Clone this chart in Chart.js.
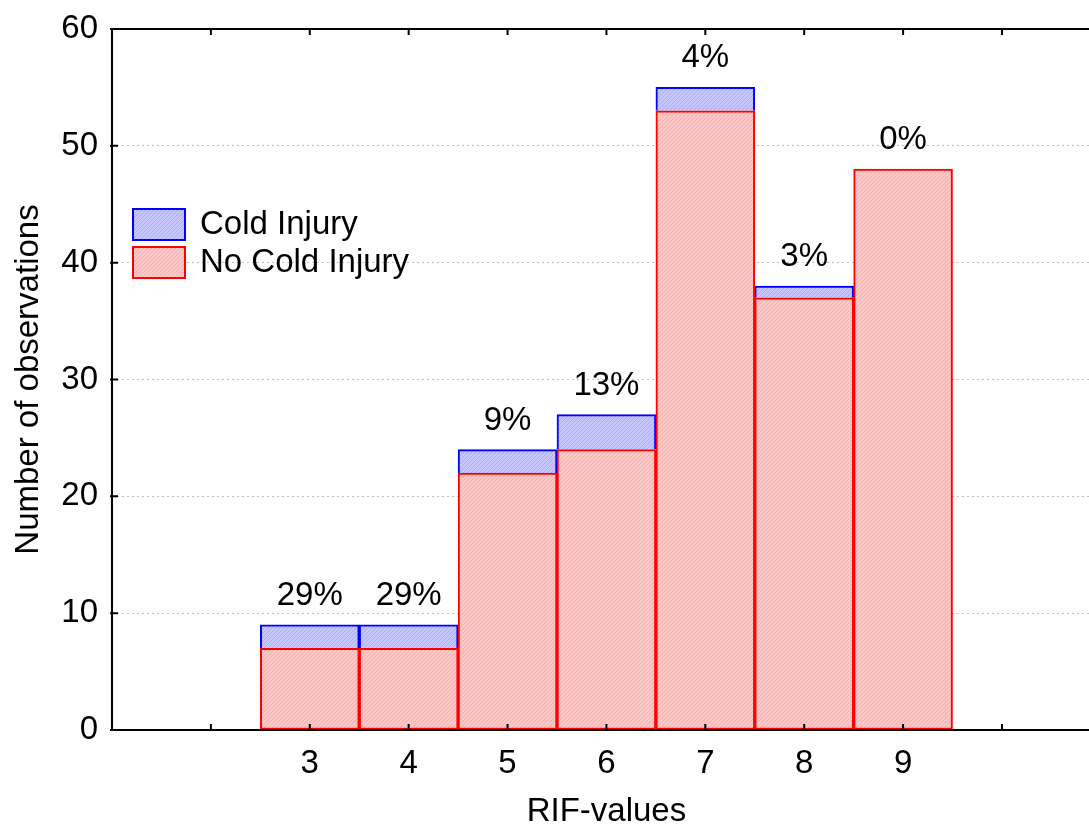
<!DOCTYPE html>
<html>
<head>
<meta charset="utf-8">
<script src="https://cdn.jsdelivr.net/npm/chart.js@4/dist/chart.umd.min.js"></script>
<style>
  html, body { margin: 0; padding: 0; overflow: hidden; background: #fff; }
</style>
</head>
<body>
<canvas id="rif" width="1089" height="826"></canvas>
<script>
// data
const rifValues = [3, 4, 5, 6, 7, 8, 9];
const noColdInjury = [7, 7, 22, 24, 53, 37, 48];
const coldInjury = [2, 2, 2, 3, 2, 1, 0];
const pctLabels = ['29%', '29%', '9%', '13%', '4%', '3%', '0%'];
const yTicks = [0, 10, 20, 30, 40, 50, 60];
const xTitle = 'RIF-values';

const FONT = '"Liberation Sans", Arial, sans-serif';

// little hatch texture like the original fills
function hatch(bg, line) {
    const c = document.createElement('canvas');
    c.width = 4; c.height = 4;
    const g = c.getContext('2d');
    g.fillStyle = bg;
    g.fillRect(0, 0, 4, 4);
    g.fillStyle = line;
    for (let i = 0; i < 4; i++) g.fillRect(i, 3 - i, 1, 1);
    return g.createPattern(c, 'repeat');
}
const redFill = hatch('rgb(255,198,198)', 'rgb(255,170,170)');
const blueFill = hatch('rgb(198,198,255)', 'rgb(170,170,255)');

// axis frame, inward tick marks, legend and percent labels
const extras = {
    id: 'extras',
    afterDatasetsDraw(chart) {
        const ctx = chart.ctx;
        const a = chart.chartArea;
        const xs = chart.scales.x, ys = chart.scales.y;
        ctx.save();
        ctx.strokeStyle = '#000';
        ctx.lineWidth = 2;
        ctx.beginPath();
        ctx.moveTo(a.left, a.bottom); ctx.lineTo(a.right, a.bottom);
        ctx.moveTo(a.left, a.bottom + 1); ctx.lineTo(a.left, a.top - 1);
        ctx.moveTo(a.left - 1, a.top); ctx.lineTo(a.right, a.top);
        for (let v = 2; v <= 10; v++) {
            const px = xs.getPixelForValue(v);
            ctx.moveTo(px, a.bottom); ctx.lineTo(px, a.bottom - 6);
            ctx.moveTo(px, a.top); ctx.lineTo(px, a.top + 6);
        }
        yTicks.forEach(v => {
            const py = ys.getPixelForValue(v);
            ctx.moveTo(a.left - 2, py); ctx.lineTo(a.left + 6, py);
        });
        ctx.stroke();

        ctx.fillStyle = '#000';
        ctx.font = '33px ' + FONT;
        ctx.textAlign = 'center';

        // x title, centred on the full 1..11 range like the original
        ctx.textBaseline = 'middle';
        ctx.fillText(xTitle, xs.getPixelForValue(6), 812);

        // percent labels above the stacks
        ctx.textBaseline = 'alphabetic';
        const top = chart.getDatasetMeta(1).data;
        top.forEach((el, i) => {
            ctx.fillText(pctLabels[i], el.x, el.y - 20);
        });

        // legend
        const ds = chart.data.datasets;
        const items = [ds[1], ds[0]];
        items.forEach((d, i) => {
            const y = 209 + i * 38;
            ctx.fillStyle = d.backgroundColor;
            ctx.fillRect(133, y, 52, 31);
            ctx.strokeStyle = d.borderColor;
            ctx.lineWidth = 2;
            ctx.strokeRect(133, y, 52, 31);
            ctx.fillStyle = '#000';
            ctx.textAlign = 'left';
            ctx.textBaseline = 'middle';
            ctx.fillText(d.label, 200, y + 16);
        });
        ctx.restore();
    }
};

const ctx = document.getElementById('rif').getContext('2d');
const rifChart = new Chart(ctx, {
    type: 'bar',
    data: {
        datasets: [{
            label: 'No Cold Injury',
            data: rifValues.map((x, i) => ({ x: x, y: noColdInjury[i] })),
            backgroundColor: redFill,
            borderColor: '#ff0000',
            borderWidth: 2,
            borderSkipped: false,
            barPercentage: 1,
            categoryPercentage: 1
        }, {
            label: 'Cold Injury',
            data: rifValues.map((x, i) => ({ x: x, y: coldInjury[i] })),
            backgroundColor: blueFill,
            borderColor: '#0000ff',
            borderWidth: 2,
            borderSkipped: 'bottom',
            barPercentage: 1,
            categoryPercentage: 1
        }]
    },
    options: {
        responsive: false,
        animation: false,
        devicePixelRatio: 1,
        layout: { padding: { top: 29, right: 0, left: 0, bottom: 0 } },
        plugins: { legend: { display: false }, tooltip: { enabled: false } },
        scales: {
            x: {
                type: 'linear',
                stacked: true,
                offset: false,
                min: 1,
                max: 10.88,
                grid: { display: false, drawTicks: false, offset: false },
                border: { display: false },
                ticks: {
                    stepSize: 1,
                    includeBounds: false,
                    autoSkip: false,
                    maxRotation: 0,
                    padding: 14,
                    color: '#000',
                    font: { family: FONT, size: 33 },
                    callback: v => rifValues.includes(v) ? String(v) : ''
                },
                afterFit: s => { s.height = 96; s.paddingLeft = 0; s.paddingRight = 0; }
            },
            y: {
                stacked: true,
                min: 0,
                max: 60,
                grid: { color: '#c0c0c0', lineWidth: 1, drawTicks: false },
                border: { display: false, dash: [2, 3] },
                ticks: {
                    stepSize: 10,
                    padding: 14,
                    color: '#000',
                    font: { family: FONT, size: 33 }
                },
                title: {
                    display: true,
                    text: 'Number of observations',
                    color: '#000',
                    font: { family: FONT, size: 33, lineHeight: 1 },
                    padding: { top: 12, bottom: 0 }
                },
                afterFit: s => { s.width = 112; s.paddingTop = 0; s.paddingBottom = 0; }
            }
        }
    },
    plugins: [extras]
});
</script>
</body>
</html>
